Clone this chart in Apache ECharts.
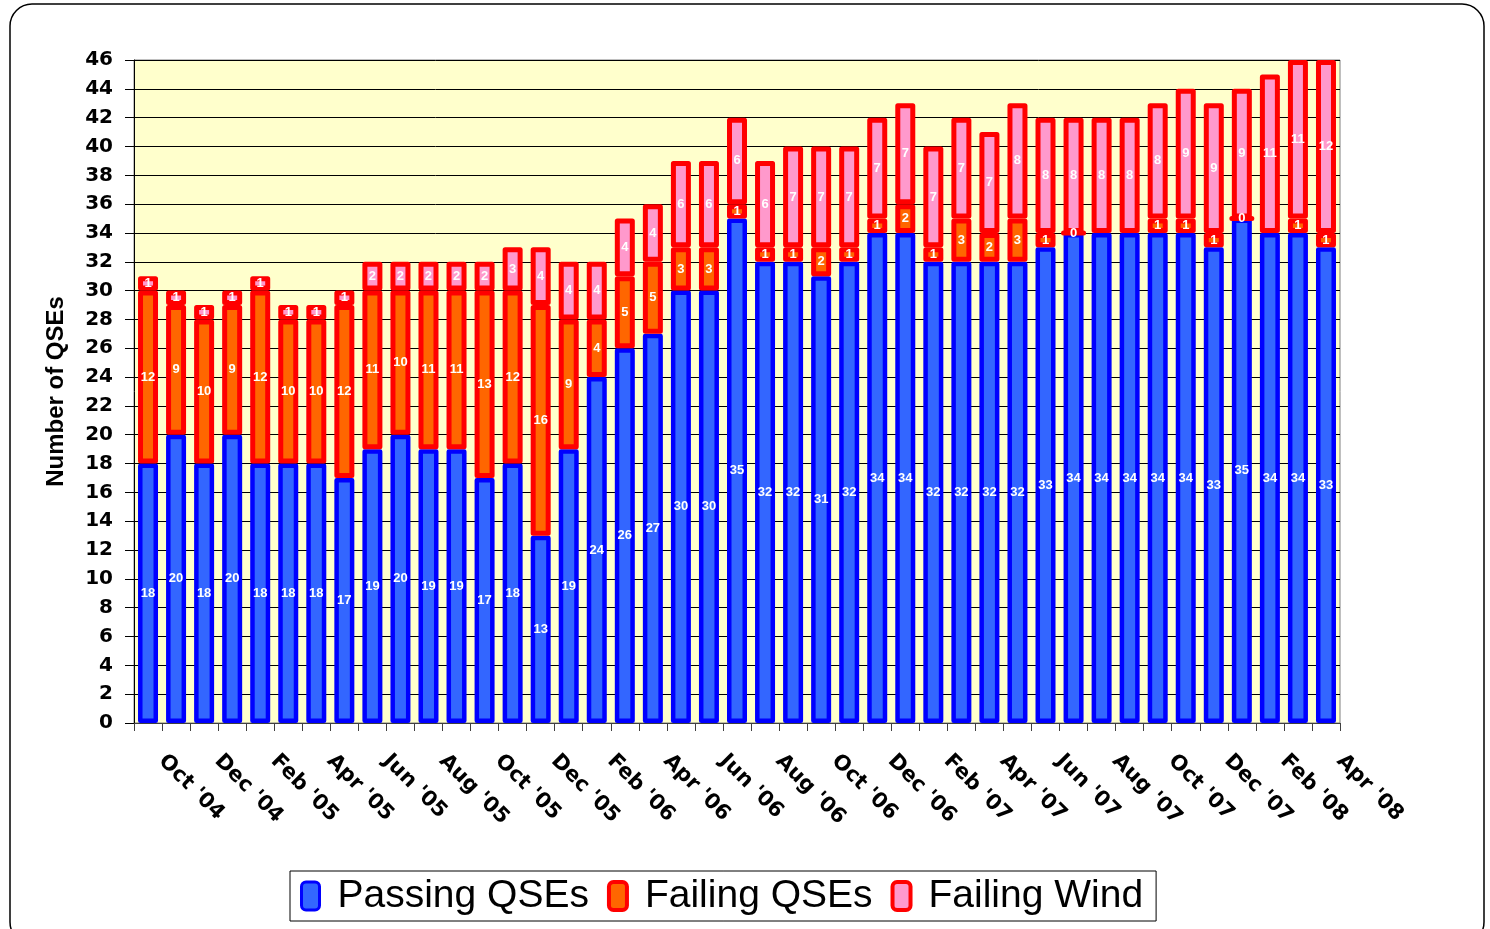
<!DOCTYPE html>
<html>
<head>
<meta charset="utf-8">
<title>Number of QSEs</title>
<script src="https://cdn.jsdelivr.net/npm/echarts@6/dist/echarts.min.js"></script>
<style>
  html, body { margin: 0; padding: 0; background: #fff; }
  #chart { width: 1490px; height: 929px; }
</style>
</head>
<body>
<div id="chart"></div>
<script>
// 月份（Oct '04 ~ Apr '08）
const months = [
  "Oct '04", "Nov '04", "Dec '04", "Jan '05", "Feb '05", "Mar '05", "Apr '05", "May '05",
  "Jun '05", "Jul '05", "Aug '05", "Sep '05", "Oct '05", "Nov '05", "Dec '05", "Jan '06",
  "Feb '06", "Mar '06", "Apr '06", "May '06", "Jun '06", "Jul '06", "Aug '06", "Sep '06",
  "Oct '06", "Nov '06", "Dec '06", "Jan '07", "Feb '07", "Mar '07", "Apr '07", "May '07",
  "Jun '07", "Jul '07", "Aug '07", "Sep '07", "Oct '07", "Nov '07", "Dec '07", "Jan '08",
  "Feb '08", "Mar '08", "Apr '08"
]

// 三个系列的数值（null = 图上没有标注）
const passingQSEs = [
  18, 20, 18, 20, 18, 18, 18, 17, 19, 20, 19, 19, 17, 18, 13, 19, 24, 26, 27, 30, 30, 35,
  32, 32, 31, 32, 34, 34, 32, 32, 32, 32, 33, 34, 34, 34, 34, 34, 33, 35, 34, 34, 33
]
const failingQSEs = [
  12, 9, 10, 9, 12, 10, 10, 12, 11, 10, 11, 11, 13, 12, 16, 9, 4, 5, 5, 3, 3, 1,
  1, 1, 2, 1, 1, 2, 1, 3, 2, 3, 1, 0, null, null, 1, 1, 1, 0, null, 1, 1
]
const failingWind = [
  1, 1, 1, 1, 1, 1, 1, 1, 2, 2, 2, 2, 2, 3, 4, 4, 4, 4, 4, 6, 6, 6,
  6, 7, 7, 7, 7, 7, 7, 7, 7, 8, 8, 8, 8, 8, 8, 9, 9, 9, 11, 11, 12
]

// Y 轴范围
const yMax = 46
const yStep = 2

const chart = echarts.init(document.getElementById('chart'))

// 柱内数值标签
const barLabel = {
  show: true,
  position: 'inside',
  color: '#fff',
  fontFamily: 'Liberation Sans, Arial, sans-serif',
  fontWeight: 'bold',
  fontSize: 13,
  formatter: (p) => (p.value === null || p.value === undefined ? '' : String(p.value))
}

const option = {
  backgroundColor: '#fff',
  animation: false,
  graphic: [
    {
      // 外框（圆角）
      type: 'rect',
      shape: { x: 10, y: 4, width: 1474, height: 940, r: 22 },
      style: { fill: 'none', stroke: '#000', lineWidth: 1.5 },
      silent: true,
      z: -10
    }
  ],
  grid: {
    left: 134,
    right: 150,
    top: 60,
    bottom: 206,
    show: true,
    backgroundColor: '#FFFFCC',
    borderColor: '#808080',
    borderWidth: 1,
    outerBoundsMode: 'none'
  },
  legend: {
    left: 290,
    top: 871,
    orient: 'horizontal',
    itemWidth: 18,
    itemHeight: 28,
    itemGap: 18,
    padding: [5, 13, 5, 10],
    borderColor: '#000',
    borderWidth: 1,
    icon: 'roundRect',
    textStyle: {
      fontFamily: 'Liberation Sans, Arial, sans-serif',
      fontSize: 39,
      color: '#000',
      lineHeight: 40,
      padding: [0, 0, 0, 13]
    },
    data: [
      { name: 'Passing QSEs', itemStyle: { borderWidth: 3 } },
      { name: 'Failing QSEs', itemStyle: { borderWidth: 4 } },
      { name: 'Failing Wind', itemStyle: { borderWidth: 4 } }
    ]
  },
  xAxis: {
    type: 'category',
    data: months,
    boundaryGap: true,
    axisLine: { lineStyle: { color: '#404040', width: 1 } },
    axisTick: { show: true, interval: 0, length: 8, lineStyle: { color: '#404040' } },
    axisLabel: {
      interval: 1,
      rotate: -45,
      margin: 36,
      verticalAlign: 'bottom',
      // 前面留一点空，让斜着的文字往右下挪
      formatter: (v) => '{gap|}{t|' + v + '}',
      rich: {
        gap: { width: 9 },
        t: {
          color: '#000',
          fontFamily: 'DejaVu Sans, sans-serif',
          fontWeight: 'bold',
          fontSize: 21
        }
      }
    },
    splitLine: { show: false }
  },
  yAxis: {
    type: 'value',
    min: 0,
    max: yMax,
    interval: yStep,
    name: 'Number of QSEs',
    nameLocation: 'middle',
    nameGap: 66,
    nameRotate: 90,
    nameTextStyle: {
      color: '#000',
      fontFamily: 'Liberation Sans, Arial, sans-serif',
      fontWeight: 'bold',
      fontSize: 24
    },
    axisLine: { show: true, lineStyle: { color: '#000', width: 1 } },
    axisTick: { show: true, length: 9, lineStyle: { color: '#000' } },
    axisLabel: {
      margin: 21,
      color: '#000',
      fontFamily: 'DejaVu Sans, sans-serif',
      fontWeight: 'bold',
      fontSize: 20
    },
    splitLine: { show: true, lineStyle: { color: '#000', width: 1 } }
  },
  series: [
    {
      name: 'Passing QSEs',
      type: 'bar',
      stack: 'total',
      barWidth: 20,
      data: passingQSEs,
      itemStyle: { color: '#3366FF', borderColor: '#0000FF', borderWidth: 4.5, borderJoin: 'round' },
      label: barLabel
    },
    {
      name: 'Failing QSEs',
      type: 'bar',
      stack: 'total',
      barWidth: 20,
      data: failingQSEs,
      itemStyle: { color: '#FF6600', borderColor: '#FF0000', borderWidth: 5, borderJoin: 'round' },
      label: barLabel
    },
    {
      name: 'Failing Wind',
      type: 'bar',
      stack: 'total',
      barWidth: 20,
      data: failingWind,
      itemStyle: { color: '#FF99CC', borderColor: '#FF0000', borderWidth: 5, borderJoin: 'round' },
      label: barLabel
    }
  ]
}

chart.setOption(option)
</script>
</body>
</html>
